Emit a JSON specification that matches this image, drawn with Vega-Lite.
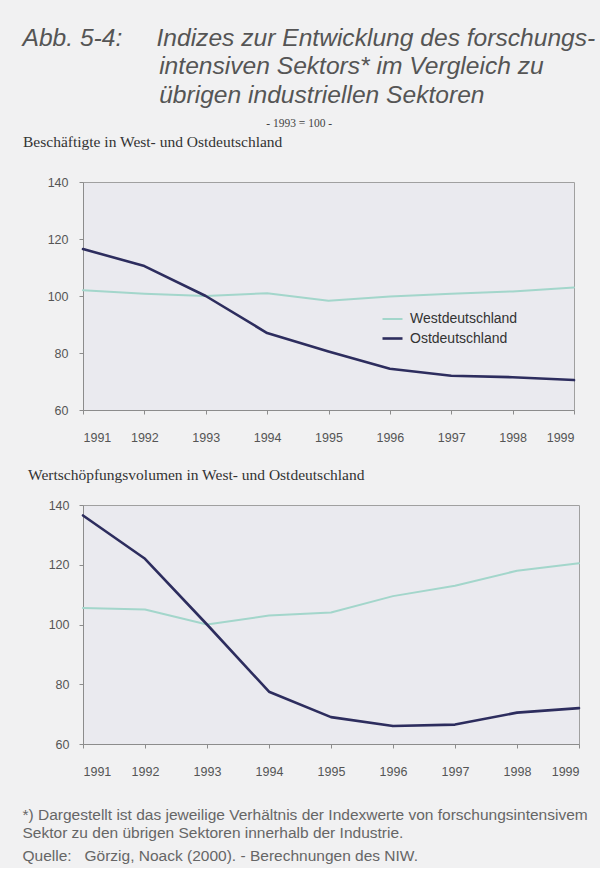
{
  "$schema": "https://vega.github.io/schema/vega-lite/v6.json",
  "background": "#f1f1f2",
  "padding": {"left": 22, "top": 25, "right": 4, "bottom": 4},
  "title": {
    "text": [
      "Abb. 5-4:\u00a0\u00a0\u00a0\u00a0\u00a0Indizes zur Entwicklung des forschungs-",
      "\u200b\u00a0\u00a0\u00a0\u00a0\u00a0\u00a0\u00a0\u00a0\u00a0\u00a0\u00a0\u00a0\u00a0\u00a0\u00a0\u00a0\u00a0\u00a0\u00a0\u00a0intensiven Sektors* im Vergleich zu",
      "\u200b\u00a0\u00a0\u00a0\u00a0\u00a0\u00a0\u00a0\u00a0\u00a0\u00a0\u00a0\u00a0\u00a0\u00a0\u00a0\u00a0\u00a0\u00a0\u00a0\u00a0übrigen industriellen Sektoren"
    ],
    "anchor": "start",
    "frame": "bounds",
    "font": "Liberation Sans",
    "fontSize": 24.6,
    "fontStyle": "italic",
    "fontWeight": "normal",
    "color": "#555555",
    "lineHeight": 28.5,
    "baseline": "top",
    "offset": 9
  },
  "datasets": {
    "beschaeftigte": [
      {"Jahr": 1991, "Region": "Westdeutschland", "Index": 102},
      {"Jahr": 1992, "Region": "Westdeutschland", "Index": 100.8},
      {"Jahr": 1993, "Region": "Westdeutschland", "Index": 100},
      {"Jahr": 1994, "Region": "Westdeutschland", "Index": 101},
      {"Jahr": 1995, "Region": "Westdeutschland", "Index": 98.3},
      {"Jahr": 1996, "Region": "Westdeutschland", "Index": 99.8},
      {"Jahr": 1997, "Region": "Westdeutschland", "Index": 100.8},
      {"Jahr": 1998, "Region": "Westdeutschland", "Index": 101.6},
      {"Jahr": 1999, "Region": "Westdeutschland", "Index": 103},
      {"Jahr": 1991, "Region": "Ostdeutschland", "Index": 116.5},
      {"Jahr": 1992, "Region": "Ostdeutschland", "Index": 110.5},
      {"Jahr": 1993, "Region": "Ostdeutschland", "Index": 100},
      {"Jahr": 1994, "Region": "Ostdeutschland", "Index": 87},
      {"Jahr": 1995, "Region": "Ostdeutschland", "Index": 80.5},
      {"Jahr": 1996, "Region": "Ostdeutschland", "Index": 74.5},
      {"Jahr": 1997, "Region": "Ostdeutschland", "Index": 72},
      {"Jahr": 1998, "Region": "Ostdeutschland", "Index": 71.5},
      {"Jahr": 1999, "Region": "Ostdeutschland", "Index": 70.5}
    ],
    "wertschoepfung": [
      {"Jahr": 1991, "Region": "Westdeutschland", "Index": 105.5},
      {"Jahr": 1992, "Region": "Westdeutschland", "Index": 105},
      {"Jahr": 1993, "Region": "Westdeutschland", "Index": 100},
      {"Jahr": 1994, "Region": "Westdeutschland", "Index": 103},
      {"Jahr": 1995, "Region": "Westdeutschland", "Index": 104},
      {"Jahr": 1996, "Region": "Westdeutschland", "Index": 109.5},
      {"Jahr": 1997, "Region": "Westdeutschland", "Index": 113},
      {"Jahr": 1998, "Region": "Westdeutschland", "Index": 118},
      {"Jahr": 1999, "Region": "Westdeutschland", "Index": 120.5},
      {"Jahr": 1991, "Region": "Ostdeutschland", "Index": 136.5},
      {"Jahr": 1992, "Region": "Ostdeutschland", "Index": 122},
      {"Jahr": 1993, "Region": "Ostdeutschland", "Index": 100},
      {"Jahr": 1994, "Region": "Ostdeutschland", "Index": 77.5},
      {"Jahr": 1995, "Region": "Ostdeutschland", "Index": 69},
      {"Jahr": 1996, "Region": "Ostdeutschland", "Index": 66},
      {"Jahr": 1997, "Region": "Ostdeutschland", "Index": 66.5},
      {"Jahr": 1998, "Region": "Ostdeutschland", "Index": 70.5},
      {"Jahr": 1999, "Region": "Ostdeutschland", "Index": 72}
    ]
  },
  "vconcat": [
    {
      "title": {
        "text": [
          "*) Dargestellt ist das jeweilige Verhältnis der Indexwerte von forschungsintensivem",
          "Sektor zu den übrigen Sektoren innerhalb der Industrie."
        ],
        "subtitle": "Quelle:\u00a0\u00a0\u00a0Görzig, Noack (2000). - Berechnungen des NIW.",
        "orient": "bottom",
        "anchor": "start",
        "frame": "bounds",
        "baseline": "top",
        "font": "Liberation Sans",
        "fontSize": 15.5,
        "fontWeight": "normal",
        "color": "#666666",
        "lineHeight": 18,
        "subtitleFont": "Liberation Sans",
        "subtitleFontSize": 15.5,
        "subtitleColor": "#666666",
        "subtitlePadding": 7,
        "offset": 30
      },
      "spacing": 23,
      "vconcat": [
        {
          "title": {
            "text": "- 1993 = 100 -",
            "anchor": "middle",
            "frame": "bounds",
            "baseline": "top",
            "font": "Liberation Serif",
            "fontSize": 11.5,
            "fontWeight": "normal",
            "color": "#444444",
            "offset": 5
          },
          "vconcat": [
            {
              "width": 491,
              "height": 228,
              "title": {
                "text": "Beschäftigte in West- und Ostdeutschland",
                "anchor": "start",
                "frame": "bounds",
                "baseline": "top",
                "font": "Liberation Serif",
                "fontSize": 15.5,
                "fontWeight": "normal",
                "color": "#333333",
                "offset": 26
              },
              "data": {"name": "beschaeftigte"},
              "mark": {"type": "line", "strokeJoin": "round", "strokeCap": "round"},
              "encoding": {
                "x": {
                  "field": "Jahr",
                  "type": "quantitative",
                  "scale": {"domain": [1991, 1999], "nice": false, "zero": false},
                  "axis": {"values": [1991, 1992, 1993, 1994, 1995, 1996, 1997, 1998, 1999], "format": "d", "labelPadding": 17}
                },
                "y": {
                  "field": "Index",
                  "type": "quantitative",
                  "scale": {"domain": [60, 140], "nice": false, "zero": false},
                  "axis": {"values": [60, 80, 100, 120, 140], "minExtent": 60, "maxExtent": 60, "labelPadding": 11}
                },
                "color": {
                  "field": "Region",
                  "type": "nominal",
                  "scale": {"domain": ["Westdeutschland", "Ostdeutschland"], "range": ["#a3d6cb", "#2d2d5e"]},
                  "legend": {"orient": "none", "legendX": 298, "legendY": 126}
                },
                "strokeWidth": {
                  "field": "Region",
                  "type": "nominal",
                  "scale": {"domain": ["Westdeutschland", "Ostdeutschland"], "range": [2, 2.6]},
                  "legend": null
                }
              }
            }
          ]
        },
        {
          "width": 496,
          "height": 239,
          "title": {
            "text": "Wertschöpfungsvolumen in West- und Ostdeutschland",
            "anchor": "start",
            "frame": "bounds",
            "baseline": "top",
            "font": "Liberation Serif",
            "fontSize": 15.5,
            "fontWeight": "normal",
            "color": "#333333",
            "offset": 16
          },
          "data": {"name": "wertschoepfung"},
          "mark": {"type": "line", "strokeJoin": "round", "strokeCap": "round"},
          "encoding": {
            "x": {
              "field": "Jahr",
              "type": "quantitative",
              "scale": {"domain": [1991, 1999], "nice": false, "zero": false},
              "axis": {"values": [1991, 1992, 1993, 1994, 1995, 1996, 1997, 1998, 1999], "format": "d", "labelPadding": 17}
            },
            "y": {
              "field": "Index",
              "type": "quantitative",
              "scale": {"domain": [60, 140], "nice": false, "zero": false},
              "axis": {"values": [60, 80, 100, 120, 140], "minExtent": 55, "maxExtent": 55, "labelPadding": 10}
            },
            "color": {
              "field": "Region",
              "type": "nominal",
              "scale": {"domain": ["Westdeutschland", "Ostdeutschland"], "range": ["#a3d6cb", "#2d2d5e"]},
              "legend": {"orient": "none", "legendX": 310, "legendY": 135}
            },
            "strokeWidth": {
              "field": "Region",
              "type": "nominal",
              "scale": {"domain": ["Westdeutschland", "Ostdeutschland"], "range": [2, 2.6]},
              "legend": null
            }
          }
        }
      ]
    }
  ],
  "config": {
    "view": {"fill": "#eaeaef", "stroke": "#a0a0a0", "strokeWidth": 1},
    "axis": {
      "domainColor": "#8c8c8c",
      "tickColor": "#8c8c8c",
      "tickSize": 4,
      "labelFont": "Liberation Sans",
      "labelFontSize": 12.5,
      "labelColor": "#555555",
      "grid": false,
      "title": null
    },
    "legend": {
      "title": null,
      "symbolType": "stroke",
      "symbolSize": 400,
      "symbolStrokeWidth": 2.5,
      "labelFont": "Liberation Sans",
      "labelFontSize": 14,
      "labelColor": "#333333",
      "rowPadding": 1,
      "labelOffset": 6
    }
  }
}
